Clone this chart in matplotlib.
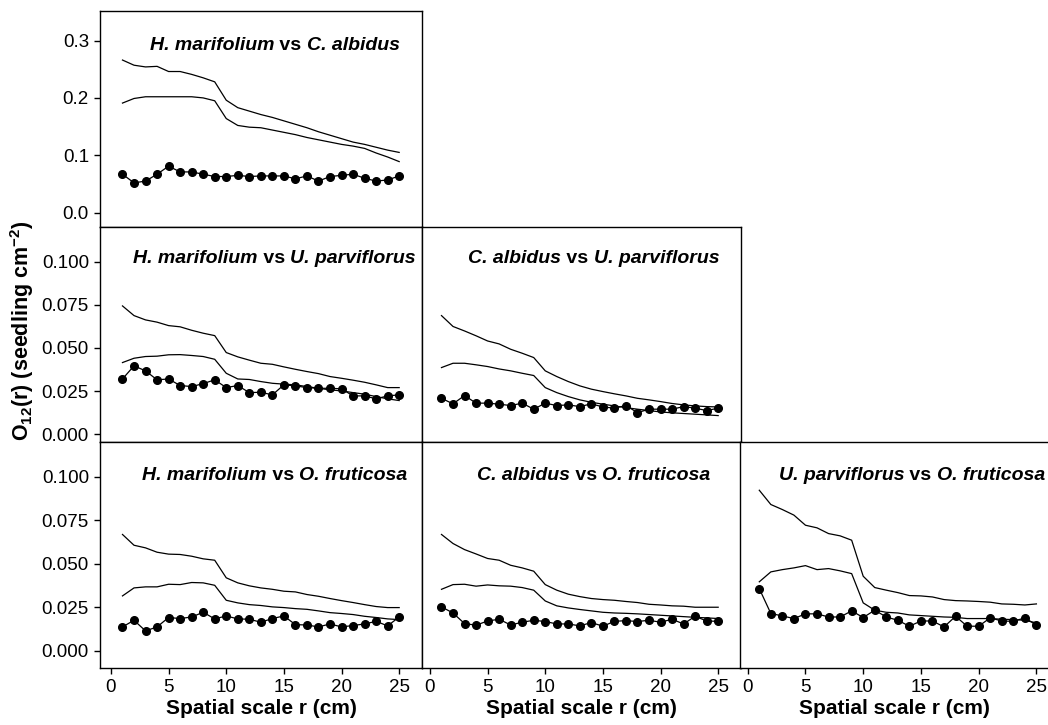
"""
O12(r) ring statistic for pairs of shrub species, with simulation envelopes.
Seven panels in a lower-triangle layout.
"""

import matplotlib
matplotlib.use('Agg')
import matplotlib.pyplot as plt

# Spatial scale r (cm)
R = list(range(1, 26))

# H. marifolium vs C. albidus
HM_CA_OBS = [0.067, 0.052, 0.055, 0.067, 0.081, 0.071, 0.071, 0.067, 0.063, 0.063,
             0.065, 0.063, 0.064, 0.064, 0.064, 0.059, 0.064, 0.055, 0.063, 0.065,
             0.067, 0.060, 0.055, 0.057, 0.064]
HM_CA_HI = [0.266, 0.257, 0.254, 0.255, 0.246, 0.246, 0.241, 0.235, 0.228, 0.196,
            0.183, 0.177, 0.171, 0.166, 0.160, 0.154, 0.148, 0.141, 0.135, 0.129,
            0.123, 0.119, 0.114, 0.109, 0.105]
HM_CA_LO = [0.191, 0.199, 0.202, 0.202, 0.202, 0.202, 0.202, 0.200, 0.195, 0.164,
            0.152, 0.149, 0.148, 0.144, 0.140, 0.136, 0.131, 0.127, 0.123, 0.119,
            0.116, 0.112, 0.104, 0.097, 0.089]

# H. marifolium vs U. parviflorus
HM_UP_OBS = [0.0320, 0.0396, 0.0367, 0.0315, 0.0320, 0.0282, 0.0276, 0.0293, 0.0315, 0.0270,
             0.0282, 0.0241, 0.0243, 0.0228, 0.0286, 0.0280, 0.0270, 0.0266, 0.0266, 0.0263,
             0.0222, 0.0222, 0.0205, 0.0222, 0.0228]
HM_UP_HI = [0.0743, 0.0687, 0.0662, 0.0649, 0.0629, 0.0622, 0.0602, 0.0585, 0.0571, 0.0473,
            0.0448, 0.0429, 0.0411, 0.0405, 0.0390, 0.0376, 0.0363, 0.0351, 0.0334, 0.0324,
            0.0313, 0.0301, 0.0286, 0.0270, 0.0270]
HM_UP_LO = [0.0415, 0.0440, 0.0450, 0.0452, 0.0460, 0.0461, 0.0456, 0.0450, 0.0434, 0.0353,
            0.0320, 0.0317, 0.0305, 0.0295, 0.0290, 0.0286, 0.0276, 0.0266, 0.0257, 0.0251,
            0.0241, 0.0232, 0.0218, 0.0205, 0.0195]

# C. albidus vs U. parviflorus
CA_UP_OBS = [0.0208, 0.0176, 0.0224, 0.0180, 0.0180, 0.0174, 0.0166, 0.0180, 0.0145, 0.0180,
             0.0166, 0.0170, 0.0160, 0.0176, 0.0158, 0.0151, 0.0166, 0.0125, 0.0145, 0.0145,
             0.0145, 0.0160, 0.0151, 0.0137, 0.0151]
CA_UP_HI = [0.0687, 0.0624, 0.0598, 0.0570, 0.0540, 0.0523, 0.0492, 0.0469, 0.0444, 0.0367,
            0.0334, 0.0305, 0.0280, 0.0261, 0.0247, 0.0234, 0.0222, 0.0208, 0.0199, 0.0189,
            0.0178, 0.0170, 0.0164, 0.0160, 0.0158]
CA_UP_LO = [0.0386, 0.0411, 0.0411, 0.0402, 0.0392, 0.0378, 0.0367, 0.0353, 0.0340, 0.0270,
            0.0241, 0.0218, 0.0199, 0.0185, 0.0174, 0.0164, 0.0154, 0.0145, 0.0137, 0.0129,
            0.0124, 0.0120, 0.0116, 0.0112, 0.0108]

# H. marifolium vs O. fruticosa
HM_OF_OBS = [0.0138, 0.0176, 0.0115, 0.0138, 0.0192, 0.0186, 0.0195, 0.0222, 0.0184, 0.0201,
             0.0184, 0.0182, 0.0165, 0.0186, 0.0201, 0.0151, 0.0149, 0.0138, 0.0155, 0.0138,
             0.0146, 0.0155, 0.0170, 0.0144, 0.0195]
HM_OF_HI = [0.0669, 0.0607, 0.0592, 0.0567, 0.0556, 0.0554, 0.0544, 0.0529, 0.0521, 0.0420,
            0.0391, 0.0374, 0.0362, 0.0354, 0.0343, 0.0339, 0.0324, 0.0314, 0.0301, 0.0289,
            0.0278, 0.0266, 0.0255, 0.0249, 0.0249]
HM_OF_LO = [0.0316, 0.0362, 0.0368, 0.0368, 0.0383, 0.0381, 0.0393, 0.0391, 0.0377, 0.0291,
            0.0276, 0.0266, 0.0261, 0.0253, 0.0249, 0.0243, 0.0239, 0.0230, 0.0220, 0.0215,
            0.0209, 0.0199, 0.0192, 0.0184, 0.0180]

# C. albidus vs O. fruticosa
CA_OF_OBS = [0.0253, 0.0218, 0.0157, 0.0148, 0.0172, 0.0182, 0.0149, 0.0165, 0.0176, 0.0169,
             0.0155, 0.0155, 0.0144, 0.0163, 0.0142, 0.0170, 0.0174, 0.0169, 0.0176, 0.0165,
             0.0182, 0.0155, 0.0199, 0.0172, 0.0170]
CA_OF_HI = [0.0669, 0.0617, 0.0582, 0.0557, 0.0531, 0.0521, 0.0492, 0.0477, 0.0458, 0.0381,
            0.0349, 0.0326, 0.0312, 0.0301, 0.0295, 0.0291, 0.0284, 0.0278, 0.0268, 0.0264,
            0.0259, 0.0257, 0.0251, 0.0251, 0.0251]
CA_OF_LO = [0.0354, 0.0381, 0.0383, 0.0372, 0.0379, 0.0374, 0.0372, 0.0364, 0.0349, 0.0287,
            0.0259, 0.0247, 0.0238, 0.0230, 0.0222, 0.0218, 0.0216, 0.0213, 0.0209, 0.0205,
            0.0201, 0.0197, 0.0193, 0.0190, 0.0186]

# U. parviflorus vs O. fruticosa
UP_OF_OBS = [0.0358, 0.0215, 0.0201, 0.0186, 0.0213, 0.0213, 0.0195, 0.0195, 0.0230, 0.0192,
             0.0234, 0.0195, 0.0176, 0.0142, 0.0172, 0.0172, 0.0138, 0.0199, 0.0142, 0.0142,
             0.0190, 0.0172, 0.0170, 0.0190, 0.0148]
UP_OF_HI = [0.0923, 0.0841, 0.0812, 0.0780, 0.0722, 0.0707, 0.0674, 0.0661, 0.0636, 0.0429,
            0.0364, 0.0349, 0.0335, 0.0318, 0.0316, 0.0310, 0.0295, 0.0289, 0.0287, 0.0284,
            0.0280, 0.0270, 0.0268, 0.0264, 0.0270]
UP_OF_LO = [0.0397, 0.0454, 0.0467, 0.0477, 0.0490, 0.0467, 0.0473, 0.0460, 0.0444, 0.0276,
            0.0234, 0.0222, 0.0218, 0.0207, 0.0203, 0.0199, 0.0195, 0.0193, 0.0186, 0.0186,
            0.0186, 0.0182, 0.0180, 0.0176, 0.0161]

FIG_W, FIG_H = 1048, 725  # pixels at dpi 100
TICK_SIZE = 13.5
LABEL_SIZE = 15
TITLE_SIZE = 14

titulos = []  # (ax, first text, last text, x centre)


def nuevo_panel(fig, left, top, right, bottom, xlim, ylim):
    """Axes given in pixel coordinates (from the top-left corner)"""
    ax = fig.add_axes([left / FIG_W, 1 - bottom / FIG_H,
                       (right - left) / FIG_W, (bottom - top) / FIG_H])
    ax.set_xlim(*xlim)
    ax.set_ylim(*ylim)
    for s in ax.spines.values():
        s.set_linewidth(1.0)
        s.set_color('black')
    ax.tick_params(direction='out', length=4, width=1, labelsize=TICK_SIZE, pad=4)
    ax.set_xticks([])
    ax.set_yticks([])
    return ax


def dibujar(ax, obs, hi, lo, sp1, sp2, ytxt):
    ax.plot(R, hi, color='black', lw=0.9)
    ax.plot(R, lo, color='black', lw=0.9)
    ax.plot(R, obs, color='black', lw=0.9, marker='o', markersize=5.5)
    # species in bold italic, 'vs' in bold upright
    t1 = ax.text(14, ytxt, sp1, ha='left', va='center', fontsize=TITLE_SIZE,
                 fontweight='bold', fontstyle='italic')
    t2 = ax.annotate(' vs ', xy=(1, 0), xycoords=t1, ha='left', va='bottom',
                     fontsize=TITLE_SIZE, fontweight='bold')
    t3 = ax.annotate(sp2, xy=(1, 0), xycoords=t2, ha='left', va='bottom',
                     fontsize=TITLE_SIZE, fontweight='bold', fontstyle='italic')
    titulos.append((ax, t1, t3, 14.2))


def centrar_titulos(fig):
    """Shift each composite title so that it is centred on its x centre"""
    fig.canvas.draw()
    r = fig.canvas.get_renderer()
    for ax, t1, t3, xc in titulos:
        x0 = t1.get_window_extent(r).x0
        x1 = t3.get_window_extent(r).x1
        centro = ax.transData.transform((xc, 0))[0]
        dx = centro - (x0 + x1) / 2
        px, py = ax.transData.transform(t1.get_position())
        t1.set_position(ax.transData.inverted().transform((px + dx, py)))


def main():
    plt.rcParams['font.family'] = 'Liberation Sans'
    plt.rcParams['mathtext.fontset'] = 'custom'
    plt.rcParams['mathtext.rm'] = 'Liberation Sans'
    plt.rcParams['mathtext.bf'] = 'Liberation Sans:bold'

    fig = plt.figure(figsize=(FIG_W / 100, FIG_H / 100), dpi=100)

    xl_izq = (-0.95, 26.98)
    xl_med = (-0.69, 26.98)
    xl_der = (-0.67, 26.09)
    yl_top = (-0.025, 0.352)
    yl_mid = (-0.0045, 0.12)
    yl_bot = (-0.0098, 0.12)
    ticks_small = [0.0, 0.025, 0.05, 0.075, 0.1]
    ticks_x = [0, 5, 10, 15, 20, 25]

    # top row
    ax = nuevo_panel(fig, 100, 10.7, 422, 227, xl_izq, yl_top)
    dibujar(ax, HM_CA_OBS, HM_CA_HI, HM_CA_LO, 'H. marifolium', 'C. albidus', 0.292)
    ax.set_yticks([0.0, 0.1, 0.2, 0.3])
    ax.set_yticklabels(['0.0', '0.1', '0.2', '0.3'])

    # middle row
    ax = nuevo_panel(fig, 100, 227, 422, 442, xl_izq, yl_mid)
    dibujar(ax, HM_UP_OBS, HM_UP_HI, HM_UP_LO, 'H. marifolium', 'U. parviflorus', 0.1015)
    ax.set_yticks(ticks_small)
    ax.set_yticklabels(['0.000', '0.025', '0.050', '0.075', '0.100'])

    ax = nuevo_panel(fig, 422, 227, 741, 442, xl_med, yl_mid)
    dibujar(ax, CA_UP_OBS, CA_UP_HI, CA_UP_LO, 'C. albidus', 'U. parviflorus', 0.1015)

    # bottom row
    abajo = [
        (100, 422, xl_izq, HM_OF_OBS, HM_OF_HI, HM_OF_LO, 'H. marifolium', 'O. fruticosa'),
        (422, 741, xl_med, CA_OF_OBS, CA_OF_HI, CA_OF_LO, 'C. albidus', 'O. fruticosa'),
        (740, 1049, xl_der, UP_OF_OBS, UP_OF_HI, UP_OF_LO, 'U. parviflorus', 'O. fruticosa'),
    ]
    for i, (l, r, xl, obs, hi, lo, s1, s2) in enumerate(abajo):
        ax = nuevo_panel(fig, l, 442, r, 668, xl, yl_bot)
        dibujar(ax, obs, hi, lo, s1, s2, 0.101)
        ax.set_xticks(ticks_x)
        ax.set_xlabel('Spatial scale r (cm)', fontsize=LABEL_SIZE, fontweight='bold',
                      labelpad=2)
        if i == 0:
            ax.set_yticks(ticks_small)
            ax.set_yticklabels(['0.000', '0.025', '0.050', '0.075', '0.100'])
        if i == 2:
            ax.spines['right'].set_visible(False)

    fig.text(22 / FIG_W, 1 - 331 / FIG_H,
             r'O$_{\mathbf{12}}$(r) (seedling cm$^{\mathbf{-2}}$)',
             rotation=90, ha='center', va='center', fontsize=15.5,
             fontweight='bold')

    centrar_titulos(fig)
    fig.savefig('out.png', dpi=100)


if __name__ == "__main__":
    main()
